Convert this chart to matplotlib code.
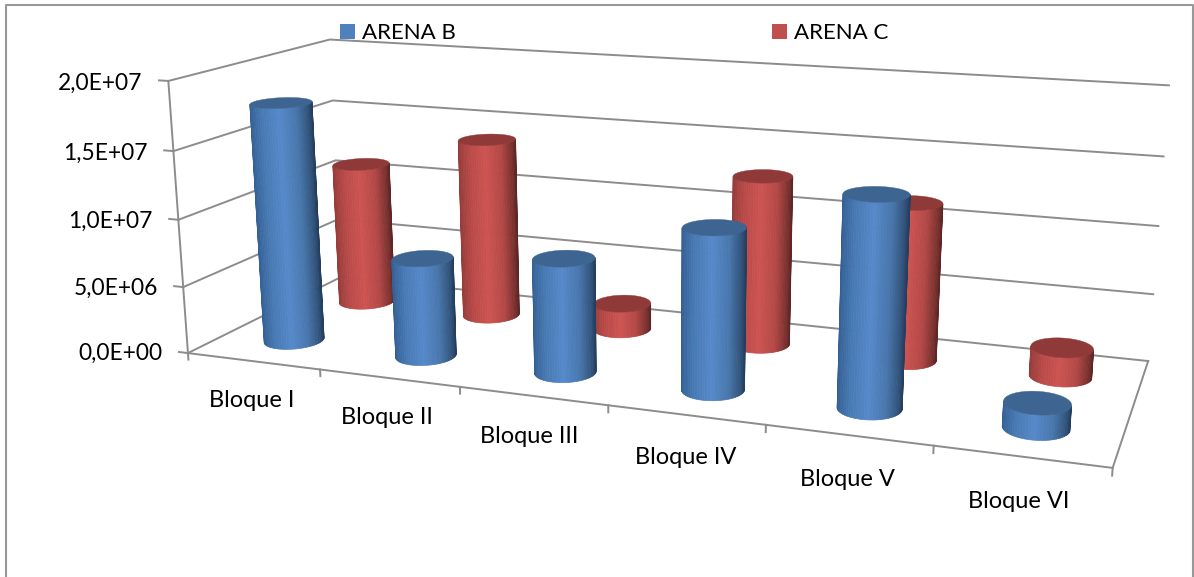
import numpy as np
import matplotlib
matplotlib.use('Agg')
import matplotlib.pyplot as plt
from matplotlib.patches import Rectangle
from mpl_toolkits.mplot3d.art3d import Poly3DCollection

W, H = 1194, 577

# datos
bloques = ['Bloque I', 'Bloque II', 'Bloque III', 'Bloque IV', 'Bloque V', 'Bloque VI']
arena_b = [1.79e7, 0.73e7, 0.83e7, 1.145e7, 1.46e7, 0.17e7]
arena_c = [1.12e7, 1.39e7, 0.20e7, 1.27e7, 1.16e7, 0.21e7]
z_ticks = [0, 0.5e7, 1.0e7, 1.5e7, 2.0e7]
z_labels = ['0,0E+00', '5,0E+06', '1,0E+07', '1,5E+07', '2,0E+07']
Z_TOP = 2.0e7

plt.rcParams['font.family'] = ['Lato', 'DejaVu Sans']
GREY = '#8c8c8c'
LW = 1.4

# the Excel camera: fit a projection from the box corners as seen on the sheet
# (x category, y series depth, z fraction of the top) -> pixel
box = [
    (0, 0, 0, 188, 352), (0, 0, 1, 168, 82), (6, 0, 0, 1113, 468),
    (0, 2, 1, 330, 39), (0, 2, .75, 333, 100), (0, 2, 0, 341, 278),
    (6, 2, 1, 1169, 85), (6, 2, .75, 1163, 157), (6, 2, .5, 1159, 226),
    (6, 2, .25, 1153, 294), (6, 2, 0, 1148, 361),
]
rows, rhs = [], []
for x, y, z, px, py in box:
    rows.append([x, y, z, 1, 0, 0, 0, 0, -px * x, -px * y, -px * z])
    rows.append([0, 0, 0, 0, x, y, z, 1, -py * x, -py * y, -py * z])
    rhs += [px, py]
p = np.linalg.lstsq(np.array(rows, float), np.array(rhs, float), rcond=None)[0]
P = np.array([p[:4], p[4:8], [p[8], p[9], p[10], 1.0]])
P[:, 2] /= Z_TOP
cam = np.linalg.svd(P)[2][-1]
cam = cam / cam[3]

fig = plt.figure(figsize=(W / 100, H / 100), dpi=100, facecolor='white')
# square axes bigger than the figure, so nothing gets clipped
ax = fig.add_axes([0, (1 - W / H) / 2, 1, W / H], projection='3d', computed_zorder=False)
ax.set_axis_off()
ax.patch.set_visible(False)


def get_proj():
    inv = np.linalg.inv(ax.transData.get_affine().get_matrix())
    d = np.array([P[0], H * P[2] - P[1], P[2]])
    xyw = inv @ d
    return np.array([xyw[0], xyw[1], [0, 0, 0, -1.0], xyw[2]])


ax.get_proj = get_proj


def label_at(x, y, z, s, fs, ha):
    v = P @ np.array([x, y, z, 1.0])
    fig.text(v[0] / v[2] / W, 1 - v[1] / v[2] / H, s, ha=ha, va='center', fontsize=fs, color='black')


# paredes
for t in z_ticks:
    ax.plot([0, 0, 6], [0, 2, 2], [t, t, t], color=GREY, lw=LW, zorder=1)
    ax.plot([-0.07, 0], [0, 0], [t, t], color=GREY, lw=LW, zorder=1)
ax.plot([0, 0], [0, 0], [0, Z_TOP], color=GREY, lw=LW, zorder=1)
ax.plot([0, 6, 6], [0, 0, 2], [0, 0, 0], color=GREY, lw=LW, zorder=1)
for i in range(7):
    ax.plot([i, i], [0, 0], [0, -0.05e7], color=GREY, lw=LW, zorder=1)

# colores del cilindro, de izquierda a derecha
u_stops = [-1, -0.6, -0.05, 0.5, 0.85, 1]
blue_side = np.array([(52, 96, 150), (72, 122, 180), (86, 137, 202), (72, 118, 172), (50, 85, 125), (36, 62, 95)]) / 255
red_side = np.array([(150, 60, 58), (185, 74, 72), (205, 84, 81), (178, 72, 70), (125, 50, 48), (95, 38, 37)]) / 255
blue_top = '#3e6591'
red_top = '#8f3a38'
RX, RY = 0.195, 0.21
N = 72


def cylinder(cx, cy, h, side, top, zo):
    t = np.linspace(0, 2 * np.pi, N + 1)
    xs = cx + RX * np.cos(t)
    ys = cy + RY * np.sin(t)
    # only the faces turned to the camera, painted left to right
    tm = (t[:-1] + t[1:]) / 2
    mx, my = cx + RX * np.cos(tm), cy + RY * np.sin(tm)
    facing = np.cos(tm) / RX * (cam[0] - mx) + np.sin(tm) / RY * (cam[1] - my) > 0
    v = P @ np.array([mx, my, np.zeros(N), np.ones(N)])
    sx = v[0] / v[2]
    lo, hi = sx[facing].min(), sx[facing].max()
    for n, k in enumerate(sorted(np.where(facing)[0], key=lambda j: sx[j])):
        u = 2 * (sx[k] - lo) / (hi - lo) - 1
        col = [np.interp(u, u_stops, side[:, c]) for c in range(3)]
        quad = [(xs[k], ys[k], 0), (xs[k + 1], ys[k + 1], 0), (xs[k + 1], ys[k + 1], h), (xs[k], ys[k], h)]
        ax.add_collection3d(Poly3DCollection([quad], facecolors=[col], edgecolors=[col], linewidths=0.5,
                                             joinstyle='round', zorder=zo + n * 0.005), autolim=False)
    cap = Poly3DCollection([list(zip(xs, ys, np.full(N + 1, h)))], facecolors=top, edgecolors=top,
                           linewidths=0.3, joinstyle='round', zorder=zo + 0.5)
    ax.add_collection3d(cap, autolim=False)


for i, v in enumerate(arena_c):
    cylinder(i + 0.5, 1.5, v, red_side, red_top, 10 + i)
for i, v in enumerate(arena_b):
    cylinder(i + 0.5, 0.5, v, blue_side, blue_top, 30 + i)

ax.set_xlim(0, 6)
ax.set_ylim(0, 2)
ax.set_zlim(0, Z_TOP)

# etiquetas
for i, name in enumerate(bloques):
    label_at(i + 0.5 - (0.03 if i < 3 else 0), 0, -0.30e7, name, 17, 'center')
for t, s in zip(z_ticks, z_labels):
    label_at(-0.2, 0, t - 0.03e7, s, 16.4, 'right')

# leyenda
for x0, color, s in [(340, '#4f81bd', 'ARENA B'), (772, '#c0504d', 'ARENA C')]:
    fig.add_artist(Rectangle((x0 / W, 1 - 39 / H), 15 / W, 15 / H, transform=fig.transFigure, color=color, lw=0))
    fig.text((x0 + 22) / W, 1 - 33 / H, s, ha='left', va='center', fontsize=16, color='black')

# marco
fig.add_artist(plt.Line2D([6 / W, 6 / W, 1193 / W, 1193 / W], [0, 1 - 5 / H, 1 - 5 / H, 0], color='#989898', lw=1.5))

plt.savefig('out.png', dpi=100)
